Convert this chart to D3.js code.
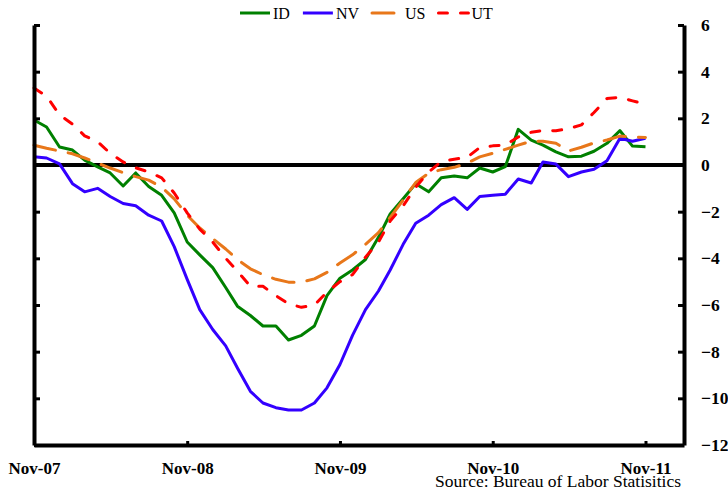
<!DOCTYPE html>
<html>
<head>
<meta charset="utf-8">
<script src="https://cdnjs.cloudflare.com/ajax/libs/d3/7.8.5/d3.min.js"></script>
<style>
    body { margin: 0; background: #fff; }
    svg { display: block; font-family: "Liberation Serif", "Times New Roman", serif; }
</style>
</head>
<body>
<div id="chart"></div>
<script>
'use strict';

// monthly, Nov-07 .. Nov-11, year over year % change in employment
const startMonth = new Date(2007, 10, 1);
const endMonth = new Date(2011, 10, 1);

const seriesNames = ['ID', 'NV', 'US', 'UT'];

const idValues = [1.93, 1.63, 0.77, 0.64, 0.21, -0.08, -0.34, -0.9, -0.34, -0.92,
    -1.3, -2.05, -3.3, -3.85, -4.4, -5.25, -6.05, -6.45, -6.9, -6.9,
    -7.5, -7.3, -6.9, -5.6, -4.85, -4.5, -4.05, -3.1, -2.1, -1.45,
    -0.8, -1.15, -0.55, -0.47, -0.55, -0.13, -0.3, -0.07, 1.53, 1.07,
    0.85, 0.56, 0.35, 0.38, 0.59, 0.93, 1.47, 0.81, 0.78];

const nvValues = [0.35, 0.3, 0.05, -0.8, -1.15, -1.0, -1.35, -1.65, -1.75, -2.15,
    -2.4, -3.5, -4.9, -6.2, -7.05, -7.75, -8.7, -9.7, -10.2, -10.4,
    -10.5, -10.5, -10.2, -9.55, -8.55, -7.3, -6.2, -5.4, -4.5, -3.4,
    -2.5, -2.15, -1.7, -1.4, -1.9, -1.35, -1.3, -1.25, -0.6, -0.77,
    0.13, 0.04, -0.5, -0.3, -0.18, 0.18, 1.15, 1.02, 1.15];

const usValues = [0.85, 0.72, 0.6, 0.48, 0.3, 0.08, -0.13, -0.33, -0.5, -0.65,
    -0.95, -1.45, -2.15, -2.7, -3.15, -3.6, -4.05, -4.45, -4.7, -4.9,
    -5.02, -5.02, -4.88, -4.6, -4.2, -3.85, -3.4, -2.9, -2.25, -1.5,
    -0.75, -0.35, -0.2, -0.1, 0.08, 0.35, 0.5, 0.67, 0.85, 1.02,
    1.02, 0.93, 0.6, 0.76, 0.95, 1.07, 1.24, 1.2, 1.18];

const utValues = [3.3, 2.95, 2.15, 1.75, 1.25, 1.0, 0.5, 0.13, -0.12, -0.3,
    -0.55, -1.2, -2.05, -2.75, -3.3, -4.0, -4.55, -5.2, -5.2, -5.6,
    -5.95, -6.1, -6.0, -5.45, -5.0, -4.7, -3.95, -3.3, -2.4, -1.75,
    -0.95, -0.3, 0.15, 0.25, 0.33, 0.75, 0.82, 0.85, 1.2, 1.4,
    1.48, 1.47, 1.55, 1.72, 2.25, 2.85, 2.9, 2.75, 2.6];

const xTickLabels = ['Nov-07', 'Nov-08', 'Nov-09', 'Nov-10', 'Nov-11'];
const yTicks = [-12, -10, -8, -6, -4, -2, 0, 2, 4, 6];

const sourceText = 'Source: Bureau of Labor Statisitics';

class EmploymentChart {

    constructor(divId, width, height) {
        this.width = width;
        this.height = height;
        this.margin = {top: 25, right: 44, bottom: 50, left: 34};

        this.svg = d3.select('#' + divId).append('svg')
            .attr('width', width)
            .attr('height', height)
        ;

        this.styles = {
            ID: {color: '#008000', dash: null},
            NV: {color: '#3300ff', dash: null},
            US: {color: '#e8771a', dash: '22,13'},
            UT: {color: '#ff0000', dash: '9,13'}
        };
    }

    setData(months, valuesByName) {
        let self = this;
        this.months = months;
        this.series = seriesNames.map(function (name) {
            return {
                name: name,
                points: valuesByName[name].map(function (v, i) {
                    return {date: self.months[i], value: v};
                })
            };
        });
    }

    render() {
        let self = this;
        let m = this.margin;
        let x0 = m.left, x1 = this.width - m.right;
        let y0 = m.top, y1 = this.height - m.bottom;

        let x = d3.scaleTime()
            .domain([startMonth, d3.timeMonth.offset(endMonth, 3)])
            .range([x0, x1]);

        let y = d3.scaleLinear()
            .domain([-12, 6])
            .range([y1, y0]);

        let tickDates = xTickLabels.map(function (d, i) {
            return d3.timeYear.offset(startMonth, i);
        });

        // zero line
        this.svg.append('line')
            .attr('x1', x0)
            .attr('x2', x1)
            .attr('y1', y(0))
            .attr('y2', y(0))
            .style('stroke', '#000')
            .style('stroke-width', 4)
        ;

        let line = d3.line()
            .x(function (d) { return x(d.date); })
            .y(function (d) { return y(d.value); });

        this.svg.selectAll('.series').data(this.series).enter().append('path')
            .attr('class', 'series')
            .attr('d', function (d) { return line(d.points); })
            .style('fill', 'none')
            .style('stroke', function (d) { return self.styles[d.name].color; })
            .style('stroke-width', 3)
            .style('stroke-linejoin', 'round')
            .style('stroke-linecap', function (d) { return self.styles[d.name].dash ? 'round' : 'butt'; })
            .style('stroke-dasharray', function (d) { return self.styles[d.name].dash; })
        ;

        // left axis, ticks only
        let left = this.svg.append('g')
            .attr('transform', 'translate(' + x0 + ',0)')
            .call(d3.axisLeft(y).tickValues(yTicks).tickSizeInner(-6).tickSizeOuter(0).tickFormat(''));

        // right axis with labels
        let right = this.svg.append('g')
            .attr('transform', 'translate(' + x1 + ',0)')
            .call(d3.axisRight(y).tickValues(yTicks).tickSizeInner(-6).tickSizeOuter(0).tickPadding(17));

        right.selectAll('text')
            .style('font-family', '"Liberation Serif", serif')
            .style('font-size', '17.5px')
            .style('font-weight', 'bold')
            .style('fill', '#000')
        ;

        let bottom = this.svg.append('g')
            .attr('transform', 'translate(0,' + y1 + ')')
            .call(d3.axisBottom(x).tickValues(tickDates).tickSizeInner(-4).tickSizeOuter(0).tickPadding(17)
                .tickFormat(function (d, i) { return xTickLabels[i]; }));

        bottom.selectAll('text')
            .style('font-family', '"Liberation Serif", serif')
            .style('font-size', '17px')
            .style('font-weight', 'bold')
            .style('fill', '#000')
        ;

        [left, right, bottom].forEach(function (g) {
            g.select('.domain').style('stroke', '#000').style('stroke-width', 4);
            g.selectAll('.tick line').style('stroke', '#000').style('stroke-width', 3);
        });

        // legend
        let legendX = 240;
        this.series.forEach(function (s) {
            let st = self.styles[s.name];
            self.svg.append('line')
                .attr('x1', legendX)
                .attr('x2', legendX + 30)
                .attr('y1', 13)
                .attr('y2', 13)
                .style('stroke', st.color)
                .style('stroke-width', 3)
                .style('stroke-linecap', st.dash ? 'round' : 'butt')
                .style('stroke-dasharray', st.dash)
            ;
            let label = self.svg.append('text')
                .text(s.name)
                .attr('x', legendX + 33)
                .attr('y', 18.5)
                .style('font-size', '16px')
            ;
            legendX += 33 + label.node().getComputedTextLength() + 13;
        });

        this.svg.append('text')
            .text(sourceText)
            .attr('x', 681)
            .attr('y', 487)
            .style('font-size', '17.5px')
            .style('text-anchor', 'end')
        ;
    }
}

let months = d3.timeMonth.range(startMonth, d3.timeMonth.offset(endMonth, 1));

let chart = new EmploymentChart('chart', 728, 495);
chart.setData(months, {ID: idValues, NV: nvValues, US: usValues, UT: utValues});
chart.render();
</script>
</body>
</html>
